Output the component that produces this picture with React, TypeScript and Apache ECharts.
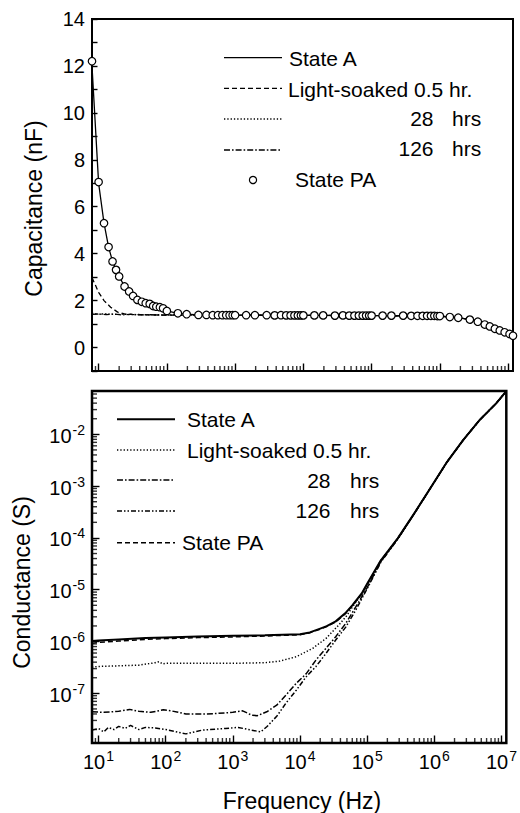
import React, { useEffect, useRef } from 'react';
import * as echarts from 'echarts';

// ---------- Capacitance (top panel) ----------
const capFreq = [
  8, 10, 12, 14, 16, 18, 20, 24, 28, 32, 37, 43, 49, 56, 63, 70, 79, 88, 100,
  145, 195, 290, 380, 470, 560, 650, 740, 830, 920, 1000,
  1450, 1950, 2900, 3800, 4700, 5600, 6500, 7400, 8300, 9200, 10000,
  14500, 19500, 29000, 38000, 47000, 56000, 65000, 74000, 83000, 92000, 100000,
  145000, 195000, 290000, 380000, 470000, 560000, 650000, 740000, 830000, 920000, 1000000,
  1400000, 1860000, 2750000, 3600000, 4550000, 5400000, 6400000, 7550000, 8900000, 10500000, 11800000,
];
const capPA = [
  12.2, 7.05, 5.3, 4.28, 3.67, 3.31, 3.03, 2.6, 2.39, 2.2, 2.03, 1.95, 1.89, 1.86, 1.77, 1.74, 1.72, 1.67, 1.56,
  1.46, 1.42, 1.39, 1.39, 1.38, 1.38, 1.38, 1.38, 1.38, 1.38, 1.38,
  1.38, 1.38, 1.38, 1.37, 1.38, 1.37, 1.37, 1.37, 1.37, 1.37, 1.37,
  1.37, 1.37, 1.36, 1.37, 1.36, 1.36, 1.36, 1.36, 1.36, 1.36, 1.36,
  1.36, 1.36, 1.36, 1.35, 1.35, 1.35, 1.35, 1.35, 1.35, 1.34, 1.34,
  1.3, 1.27, 1.19, 1.1, 0.98, 0.9, 0.8, 0.73, 0.65, 0.58, 0.5,
];
const capStateA = [
  12.0, 7.0, 5.3, 4.28, 3.67, 3.31, 3.03, 2.6, 2.39, 2.2, 2.03, 1.95, 1.89, 1.86, 1.77, 1.74, 1.72, 1.67, 1.56,
  1.46, 1.42, 1.39, 1.39, 1.38, 1.38, 1.38, 1.38, 1.38, 1.38, 1.38,
  1.38, 1.38, 1.38, 1.37, 1.38, 1.37, 1.37, 1.37, 1.37, 1.37, 1.37,
  1.37, 1.37, 1.36, 1.37, 1.36, 1.36, 1.36, 1.36, 1.36, 1.36, 1.36,
  1.36, 1.36, 1.36, 1.35, 1.35, 1.35, 1.35, 1.35, 1.35, 1.34, 1.34,
  1.3, 1.27, 1.19, 1.1, 0.98, 0.9, 0.8, 0.73, 0.65, 0.58, 0.5,
];
const capLSFreq = [
  8, 9, 10, 12, 15, 19, 24, 30, 40, 60, 100, 300, 1000, 10000, 100000, 1000000,
  1400000, 1860000, 2750000, 3600000, 4550000, 5400000, 6400000, 7550000, 8900000, 10500000, 11800000,
];
const capLS05 = [
  2.98, 2.65, 2.35, 2.0, 1.72, 1.51, 1.43, 1.41, 1.4, 1.39, 1.38, 1.38, 1.38, 1.37, 1.36, 1.34,
  1.3, 1.27, 1.19, 1.1, 0.98, 0.9, 0.8, 0.73, 0.65, 0.58, 0.5,
];
const capLongFreq = [
  8, 10, 13, 17, 22, 30, 40, 55, 75, 100, 300, 1000, 10000, 100000, 1000000,
  1400000, 1860000, 2750000, 3600000, 4550000, 5400000, 6400000, 7550000, 8900000, 10500000, 11800000,
];
const cap28 = [
  1.46, 1.42, 1.44, 1.41, 1.42, 1.4, 1.41, 1.39, 1.4, 1.38, 1.38, 1.38, 1.37, 1.36, 1.34,
  1.3, 1.27, 1.19, 1.1, 0.98, 0.9, 0.8, 0.73, 0.65, 0.58, 0.5,
];
const cap126 = [
  1.41, 1.43, 1.4, 1.43, 1.39, 1.42, 1.39, 1.4, 1.38, 1.39, 1.38, 1.37, 1.37, 1.36, 1.34,
  1.3, 1.27, 1.19, 1.1, 0.98, 0.9, 0.8, 0.73, 0.65, 0.58, 0.5,
];

// ---------- Conductance (bottom panel) ----------
const gFreqA = [
  8, 10, 20, 50, 100, 300, 1000, 3000, 10000, 14000, 20000, 25000, 34000, 47000, 60000, 83000,
  100000, 160000, 285000, 500000, 870000, 1550000, 2700000, 4750000, 8400000, 11800000,
];
const gStateA = [
  1.02e-6, 1.05e-6, 1.1e-6, 1.17e-6, 1.2e-6, 1.25e-6, 1.29e-6, 1.32e-6, 1.38e-6, 1.5e-6, 1.78e-6, 1.98e-6,
  2.45e-6, 3.5e-6, 5.0e-6, 8.5e-6, 1.3e-5, 3.7e-5, 9.8e-5, 2.95e-4, 9.1e-4, 2.95e-3, 7.8e-3, 1.9e-2, 4.0e-2, 6.8e-2,
];
const gPA = [
  0.93e-6, 0.96e-6, 1.02e-6, 1.1e-6, 1.14e-6, 1.19e-6, 1.23e-6, 1.28e-6, 1.35e-6, 1.47e-6, 1.74e-6, 1.95e-6,
  2.4e-6, 3.4e-6, 4.9e-6, 8.3e-6, 1.27e-5, 3.65e-5, 9.7e-5, 2.93e-4, 9.05e-4, 2.94e-3, 7.8e-3, 1.9e-2, 4.0e-2, 6.8e-2,
];
const gFreqLS = [
  8, 10, 20, 40, 70, 80, 90, 100, 300, 1000, 3000, 5000, 8850, 15500, 24400, 38000, 50000, 60000, 83000,
  100000, 160000, 285000, 500000, 870000, 1550000, 2700000, 4750000, 8400000, 11800000,
];
const gLS05 = [
  3.2e-7, 3.3e-7, 3.4e-7, 3.5e-7, 3.9e-7, 4.1e-7, 3.7e-7, 3.8e-7, 3.8e-7, 3.8e-7, 3.9e-7, 4.2e-7, 5.1e-7,
  7.4e-7, 1.15e-6, 2.1e-6, 3.2e-6, 4.6e-6, 8.2e-6, 1.25e-5, 3.65e-5, 9.7e-5, 2.93e-4, 9.05e-4, 2.94e-3,
  7.8e-3, 1.9e-2, 4.0e-2, 6.8e-2,
];
const g28Freq = [
  8, 12, 20, 29, 40, 60, 92, 120, 200, 400, 600, 1000, 1400, 1900, 2300, 3200, 4500, 6200, 8800, 12400,
  17300, 24400, 34000, 48000, 68000, 100000, 160000, 285000, 500000, 870000, 1550000, 2700000, 4750000,
  8400000, 11800000,
];
const g28 = [
  4.4e-8, 4.3e-8, 4.5e-8, 4.9e-8, 4.5e-8, 4.3e-8, 4.8e-8, 4.6e-8, 4.0e-8, 4.0e-8, 4.1e-8, 4.3e-8, 4.6e-8,
  3.8e-8, 3.7e-8, 4.4e-8, 5.9e-8, 9.3e-8, 1.56e-7, 2.4e-7, 4.4e-7, 7.4e-7, 1.24e-6, 2.24e-6, 4.7e-6, 1.1e-5,
  3.5e-5, 9.6e-5, 2.92e-4, 9.0e-4, 2.94e-3, 7.8e-3, 1.9e-2, 4.0e-2, 6.8e-2,
];
const g126Freq = [
  8, 10, 12, 14, 17, 20, 25, 30, 40, 50, 70, 100, 200, 350, 780, 1200, 1900, 2600, 3200, 4500, 6200, 8800,
  12400, 17300, 24400, 34000, 48000, 68000, 100000, 160000, 285000, 500000, 870000, 1550000, 2700000,
  4750000, 8400000, 11800000,
];
const g126 = [
  1.95e-8, 2.1e-8, 1.8e-8, 2.2e-8, 2.0e-8, 2.3e-8, 2.1e-8, 2.4e-8, 2.0e-8, 2.2e-8, 2.15e-8, 2.0e-8, 1.65e-8,
  1.95e-8, 2.1e-8, 2.2e-8, 1.95e-8, 1.8e-8, 2.26e-8, 3.6e-8, 6.5e-8, 1.15e-7, 2.1e-7, 3.3e-7, 5.9e-7,
  1.07e-6, 1.9e-6, 4.1e-6, 1.05e-5, 3.4e-5, 9.5e-5, 2.9e-4, 9.0e-4, 2.94e-3, 7.8e-3, 1.9e-2, 4.0e-2, 6.8e-2,
];

// ---------- Axes ----------
const X_MIN = 8;
const X_MAX = 1.18e7;
const C_MIN = -1;
const C_MAX = 14;
const G_MIN = 1.1e-8;
const G_MAX = 0.0686;
const xMajorTicks = [10, 100, 1000, 10000, 100000, 1000000, 10000000];
const gMajorTicks = [1e-7, 1e-6, 1e-5, 1e-4, 1e-3, 1e-2];
const minorMultipliers = [2, 3, 4, 5, 6, 7, 8, 9];

const minorTicks = (eFrom: number, eTo: number, lo: number, hi: number) => {
  const out: number[] = [];
  for (let e = eFrom; e <= eTo; e++) {
    for (let i = 0; i < minorMultipliers.length; i++) {
      const v = minorMultipliers[i] * Math.pow(10, e);
      if (v >= lo * 0.999 && v <= hi) out.push(v);
    }
  }
  return out;
};
const xMinorTicks = minorTicks(0, 7, X_MIN, X_MAX);
const gMinorTicks = minorTicks(-9, -2, G_MIN, G_MAX);

const FONT = '"Liberation Sans", Arial, Helvetica, sans-serif';
const pairs = (xs: number[], ys: number[]) => xs.map((x, i) => [x, ys[i]]);

const supRich = {
  b: { fontSize: 20, fontFamily: FONT, color: '#000', verticalAlign: 'bottom' },
  s: { fontSize: 14, fontFamily: FONT, color: '#000', verticalAlign: 'bottom', padding: [0, 0, 9, 1] },
};
const supFmt = (v: number) => `{b|10}{s|${Math.round(Math.log10(v))}}`;

const tickStyle = { color: '#000', width: 1.4 };

const DASHED: number[] = [5, 3];
const DOTTED: number[] = [1.3, 2];
const DASHDOT: number[] = [6, 2, 1.6, 2];
const DASHDOTDOT: number[] = [5, 2, 1.5, 2, 1.5, 2];

const lineSeries = (name: string, data: number[][], xi: number, yi: number, dash: any, width = 1.4) => ({
  name,
  type: 'line',
  xAxisIndex: xi,
  yAxisIndex: yi,
  data,
  symbol: 'none',
  showSymbol: false,
  lineStyle: { color: '#000', width, type: dash },
  z: 3,
});

// minor ticks: short bars placed through the axis scales, shifted to sit inside the frame
const MINOR_LEN = 5;
const minorTickSeries = (xi: number, yi: number, data: number[][], dir: 'up' | 'right') => ({
  type: 'scatter',
  xAxisIndex: xi,
  yAxisIndex: yi,
  data,
  symbol: 'rect',
  symbolSize: dir === 'up' ? [1.4, MINOR_LEN] : [MINOR_LEN, 1.4],
  symbolOffset: dir === 'up' ? [0, -MINOR_LEN / 2] : [MINOR_LEN / 2, 0],
  itemStyle: { color: '#000' },
});

const legendLine = (x1: number, x2: number, y: number, dash: number[] | null, width = 1.4) => ({
  type: 'line',
  shape: { x1, y1: y, x2, y2: y },
  style: { stroke: '#000', lineWidth: width, lineDash: dash },
});
const legendText = (x: number, y: number, text: string, align = 'left') => ({
  type: 'text',
  x,
  y,
  style: { text, fontSize: 21, fontFamily: FONT, fill: '#000', align, verticalAlign: 'middle' },
});

const option: any = {
  animation: false,
  backgroundColor: '#fff',
  grid: [
    { left: 92, top: 19, width: 421, height: 352, show: true, borderColor: '#000', borderWidth: 2, backgroundColor: 'transparent' },
    { left: 92, top: 391, width: 421, height: 352, show: true, borderColor: '#000', borderWidth: 2.5, backgroundColor: 'transparent' },
  ],
  xAxis: [
    {
      type: 'log', gridIndex: 0, position: 'bottom', min: X_MIN, max: X_MAX,
      axisLine: { show: false, onZero: false }, splitLine: { show: false },
      axisTick: { inside: true, length: 7.5, customValues: xMajorTicks, lineStyle: tickStyle },
      axisLabel: { show: false },
    },
    {
      type: 'log', gridIndex: 1, position: 'bottom', min: X_MIN, max: X_MAX,
      axisLine: { show: false, onZero: false }, splitLine: { show: false },
      axisTick: { inside: true, length: 7.5, customValues: xMajorTicks, lineStyle: tickStyle },
      axisLabel: { customValues: xMajorTicks, formatter: supFmt, rich: supRich, margin: 6 },
    },
  ],
  yAxis: [
    {
      type: 'value', gridIndex: 0, position: 'left', min: C_MIN, max: C_MAX, interval: 1,
      axisLine: { show: false, onZero: false }, splitLine: { show: false },
      axisTick: { inside: true, length: 5.5, lineStyle: tickStyle },
      axisLabel: {
        formatter: (v: number) => (Math.round(v) % 2 === 0 ? String(v) : ''),
        fontSize: 20, fontFamily: FONT, color: '#000', margin: 7,
      },
    },
    {
      type: 'log', gridIndex: 1, position: 'left', min: G_MIN, max: G_MAX,
      axisLine: { show: false, onZero: false }, splitLine: { show: false },
      axisTick: { inside: true, length: 7.5, customValues: gMajorTicks, lineStyle: tickStyle },
      axisLabel: { customValues: gMajorTicks, formatter: supFmt, rich: supRich, margin: 7 },
    },
  ],
  series: [
    lineSeries('State A', pairs(capFreq, capStateA), 0, 0, 'solid', 1.3),
    lineSeries('Light-soaked 0.5 hr.', pairs(capLSFreq, capLS05), 0, 0, DASHED, 1.3),
    lineSeries('28 hrs', pairs(capLongFreq, cap28), 0, 0, DOTTED, 1.3),
    lineSeries('126 hrs', pairs(capLongFreq, cap126), 0, 0, DASHDOT, 1.3),
    {
      name: 'State PA',
      type: 'scatter',
      xAxisIndex: 0,
      yAxisIndex: 0,
      data: pairs(capFreq, capPA),
      symbol: 'circle',
      symbolSize: 7.5,
      itemStyle: { color: '#fff', borderColor: '#000', borderWidth: 1.2, opacity: 1 },
      z: 5,
    },
    lineSeries('State A (G)', pairs(gFreqA, gStateA), 1, 1, 'solid', 2),
    lineSeries('Light-soaked 0.5 hr. (G)', pairs(gFreqLS, gLS05), 1, 1, DOTTED, 1.5),
    lineSeries('28 hrs (G)', pairs(g28Freq, g28), 1, 1, DASHDOT, 1.5),
    lineSeries('126 hrs (G)', pairs(g126Freq, g126), 1, 1, DASHDOTDOT, 1.5),
    lineSeries('State PA (G)', pairs(gFreqA, gPA), 1, 1, DASHED, 1.5),
    minorTickSeries(0, 0, xMinorTicks.map((v) => [v, C_MIN]), 'up'),
    minorTickSeries(1, 1, xMinorTicks.map((v) => [v, G_MIN]), 'up'),
    minorTickSeries(1, 1, gMinorTicks.map((v) => [X_MIN, v]), 'right'),
  ],
  graphic: [
    // top legend
    legendLine(224, 282, 57.7, null, 1.3),
    legendText(289, 58.5, 'State A'),
    legendLine(224, 282, 88.3, DASHED, 1.3),
    legendText(288, 89, 'Light-soaked 0.5 hr.'),
    legendLine(224, 282, 119, DOTTED, 1.3),
    legendText(433.5, 118, '28', 'right'),
    legendText(452, 118, 'hrs'),
    legendLine(224, 282, 150, DASHDOT, 1.3),
    legendText(433.5, 148, '126', 'right'),
    legendText(452, 148, 'hrs'),
    { type: 'circle', shape: { cx: 253, cy: 180, r: 3.6 }, style: { fill: '#fff', stroke: '#000', lineWidth: 1.2 } },
    legendText(295, 179.5, 'State PA'),
    // bottom legend
    legendLine(117, 175, 419.3, null, 2),
    legendText(187, 419.5, 'State A'),
    legendLine(117, 175, 450, DOTTED, 1.5),
    legendText(187, 450.5, 'Light-soaked 0.5 hr.'),
    legendLine(117, 175, 480, DASHDOT, 1.5),
    legendText(330.5, 480.5, '28', 'right'),
    legendText(350, 480.5, 'hrs'),
    legendLine(117, 175, 511, DASHDOTDOT, 1.5),
    legendText(330.5, 510.5, '126', 'right'),
    legendText(350, 510.5, 'hrs'),
    legendLine(117, 175, 542.7, DASHED, 1.5),
    legendText(182, 542.5, 'State PA'),
    // axis titles
    {
      type: 'text', x: 33.5, y: 208.5, rotation: Math.PI / 2,
      style: { text: 'Capacitance (nF)', fontSize: 23, fontFamily: FONT, fill: '#000', align: 'center', verticalAlign: 'middle' },
    },
    {
      type: 'text', x: 21.5, y: 582.5, rotation: Math.PI / 2,
      style: { text: 'Conductance (S)', fontSize: 23, fontFamily: FONT, fill: '#000', align: 'center', verticalAlign: 'middle' },
    },
    {
      type: 'text', x: 302, y: 801,
      style: { text: 'Frequency (Hz)', fontSize: 23, fontFamily: FONT, fill: '#000', align: 'center', verticalAlign: 'middle' },
    },
  ],
};

export default function App() {
  const ref = useRef<HTMLDivElement>(null);
  useEffect(() => {
    document.body.style.margin = '0';
    if (!ref.current) return;
    const chart = echarts.init(ref.current, null, { renderer: 'svg' });
    chart.setOption(option);
    return () => chart.dispose();
  }, []);
  return <div ref={ref} style={{ width: 520, height: 813 }} />;
}
